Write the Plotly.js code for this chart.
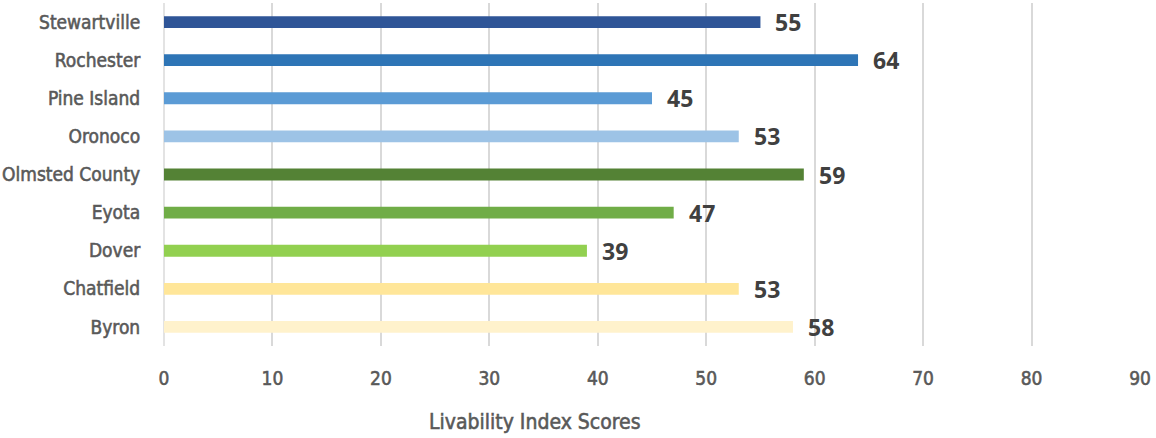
<!DOCTYPE html>
<html>
<head>
<meta charset="utf-8">
<script src="https://cdn.plot.ly/plotly-3.0.1.min.js"></script>
<style>
html,body{margin:0;padding:0;background:#fff;}
#chart{width:1156px;height:438px;}
#chart .xtick text, #chart .ytick text, #chart .infolayer g.annotation:last-child text{stroke:#595959;stroke-width:0.55px;}
</style>
</head>
<body>
<div id="chart"></div>
<script>
const categories = ["Stewartville","Rochester","Pine Island","Oronoco","Olmsted County","Eyota","Dover","Chatfield","Byron"];
const scores = [55, 64, 45, 53, 59, 47, 39, 53, 58];
const barColors = ["#2F5597","#2E75B6","#5B9BD5","#9DC3E6","#548235","#70AD47","#92D050","#FFE699","#FFF2CC"];
const xTicks = [0,10,20,30,40,50,60,70,80,90];
const xTitle = "Livability Index Scores";

const condensed = '"DejaVu Sans Condensed", "DejaVu Sans", sans-serif';
const labFont = {family: condensed, size: 19, color: '#595959', stretch: 'condensed'};

const trace = {
  type: 'bar',
  orientation: 'h',
  y: categories,
  x: scores,
  marker: {color: barColors},
  width: 0.31,
  hoverinfo: 'none'
};

const W = 1156, H = 438, ml = 164, mr = 16, mt = 3, mb = 92;

const annotations = categories.map((c, i) => ({
  x: scores[i], y: c, xref: 'x', yref: 'y',
  text: String(scores[i]), showarrow: false,
  xanchor: 'left', xshift: 13, yshift: 0,
  font: {family: '"Open Sans", "Noto Sans", sans-serif', size: 23, color: '#404040', weight: 'bold'}
}));
annotations.push({
  x: (535 - ml) / (W - ml - mr), y: -(422 - (H - mb)) / (H - mt - mb),
  xref: 'paper', yref: 'paper', text: xTitle, showarrow: false,
  xanchor: 'center', yanchor: 'middle',
  font: {family: condensed, size: 21, color: '#595959', stretch: 'condensed'}
});

const layout = {
  width: W, height: H,
  margin: {l: ml, r: mr, t: mt, b: mb},
  paper_bgcolor: '#fff', plot_bgcolor: '#fff',
  showlegend: false,
  xaxis: {
    range: [0, 90],
    tickvals: xTicks,
    ticktext: xTicks.map(String),
    showgrid: true, gridcolor: '#D9D9D9', gridwidth: 2,
    zeroline: true, zerolinecolor: '#E3E3E3', zerolinewidth: 2,
    showline: false,
    ticks: 'outside', ticklen: 15, tickcolor: 'rgba(0,0,0,0)',
    tickfont: labFont,
    fixedrange: true
  },
  yaxis: {
    type: 'category',
    autorange: 'reversed',
    showgrid: false, zeroline: false, showline: false,
    ticks: 'outside', ticklen: 19, tickcolor: 'rgba(0,0,0,0)',
    tickfont: labFont,
    fixedrange: true
  },
  annotations: annotations
};

Plotly.newPlot('chart', [trace], layout, {displayModeBar: false, staticPlot: true});
</script>
</body>
</html>
